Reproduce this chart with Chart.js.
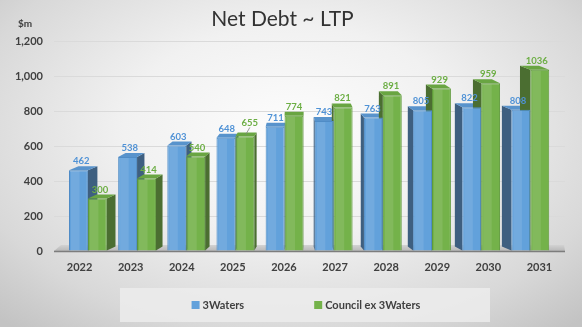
<!DOCTYPE html>
<html><head><meta charset="utf-8">
<script src="https://cdn.jsdelivr.net/npm/chart.js@4.4.0/dist/chart.umd.min.js"></script>
<style>
html,body{margin:0;padding:0;width:582px;height:327px;overflow:hidden;}
body{background: radial-gradient(ellipse 72% 80% at 50% 40%, #fdfdfd 0%, #f1f1f1 40%, #d8d8d8 78%, #c3c3c3 100%);}
canvas{display:block;}
</style></head><body>
<canvas id="c" width="582" height="327"></canvas>
<script>
const categories = ['2022','2023','2024','2025','2026','2027','2028','2029','2030','2031'];
const threeWaters = [462, 538, 603, 648, 711, 743, 763, 805, 822, 808];
const councilEx3Waters = [300, 414, 540, 655, 774, 821, 891, 929, 959, 1036];
const seriesNames = ['3Waters', 'Council ex 3Waters'];
const yTicks = {min: 0, max: 1200, step: 200};

const faceStyles = [
  {front:'#62a1db', border:'#4f8cc6', side:'#3e5f80', top:'#5893cc', label:'#4f92d6'},
  {front:'#74b24a', border:'#5f9a3b', side:'#4b6e31', top:'#69a542', label:'#6cae44'}
];
const K = 0.043, DY = 4, PERSP = 0.038;
function vpX(a){ return a.left + a.width*0.48; }

const perspective = {
  id:'perspective',
  afterDatasetsUpdate(chart){
    const vp = vpX(chart.chartArea);
    chart.data.datasets.forEach((ds, di) => {
      chart.getDatasetMeta(di).data.forEach((bar, i) => {
        const pairCenter = chart.scales.x.getPixelForValue(i);
        bar.x += (vp - pairCenter)*PERSP;
      });
    });
  }
};

const depth3d = {
  id:'depth3d',
  beforeDatasetsDraw(chart){
    const {ctx, chartArea:a} = chart;
    ctx.save();
    const g = ctx.createLinearGradient(0, a.bottom-6, 0, a.bottom);
    g.addColorStop(0,'#d2d2d2'); g.addColorStop(1,'#b8b8b8');
    ctx.fillStyle = g;
    ctx.beginPath();
    ctx.moveTo(a.left, a.bottom); ctx.lineTo(a.left+7, a.bottom-6);
    ctx.lineTo(a.right-1, a.bottom-6); ctx.lineTo(a.right, a.bottom); ctx.closePath(); ctx.fill();
    ctx.strokeStyle = '#7d7d7d'; ctx.lineWidth = 1.5;
    ctx.beginPath(); ctx.moveTo(a.left, a.bottom+0.5); ctx.lineTo(a.right, a.bottom+0.5); ctx.stroke();
    const vp = vpX(a);
    chart.data.datasets.forEach((ds, di) => {
      const st = faceStyles[di];
      chart.getDatasetMeta(di).data.forEach(bar => {
        const {x, y, base, width} = bar.getProps(['x','y','base','width'], true);
        const l = x - width/2, r = x + width/2;
        const dx = (vp - x)*K;
        const sx = dx > 0 ? r : l;
        ctx.fillStyle = st.side;
        ctx.beginPath();
        ctx.moveTo(sx, y); ctx.lineTo(sx+dx, y-DY); ctx.lineTo(sx+dx, base-DY); ctx.lineTo(sx, base);
        ctx.closePath(); ctx.fill();
        ctx.fillStyle = st.top;
        ctx.beginPath();
        ctx.moveTo(l, y); ctx.lineTo(r, y); ctx.lineTo(r+dx, y-DY); ctx.lineTo(l+dx, y-DY);
        ctx.closePath(); ctx.fill();
      });
    });
    ctx.restore();
  },
  afterDatasetsDraw(chart){
    const {ctx, chartArea:a} = chart;
    ctx.save();
    chart.data.datasets.forEach((ds, di) => {
      chart.getDatasetMeta(di).data.forEach(bar => {
        const {x, y, base, width} = bar.getProps(['x','y','base','width'], true);
        ctx.fillStyle = 'rgba(255,255,255,0.10)';
        ctx.fillRect(x - width/2 + 2, y + 1, width*0.45, base - y - 1);
      });
    });
    const vp = vpX(a);
    ctx.font = 'bold 9.5px Lato';
    ctx.textAlign = 'center';
    ctx.textBaseline = 'alphabetic';
    chart.data.datasets.forEach((ds, di) => {
      const st = faceStyles[di];
      chart.getDatasetMeta(di).data.forEach((bar, i) => {
        const dx = (vp - bar.x)*K;
        let lx = bar.x + dx*0.3, ly = bar.y - DY - 2;
        if (di === 1 && Math.abs(ds.data[i] - threeWaters[i]) < 20) {
          ctx.strokeStyle = '#7f7f7f'; ctx.lineWidth = 0.8;
          ctx.beginPath(); ctx.moveTo(bar.x + 1, bar.y - 2); ctx.lineTo(bar.x + 5, bar.y - 9); ctx.stroke();
          lx = bar.x + 5; ly = bar.y - 10;
        }
        ctx.fillStyle = st.label;
        ctx.fillText(String(ds.data[i]), lx, ly);
      });
    });
    ctx.restore();
  }
};

const boxLegend = {
  id:'boxLegend',
  afterDraw(chart){
    const ctx = chart.ctx;
    const bx = 120, by = 288, bw = 370, bh = 34;
    ctx.save();
    ctx.fillStyle = 'rgba(236,236,236,0.85)';
    ctx.fillRect(bx, by, bw, bh);
    ctx.font = 'bold 11px Lato';
    ctx.textBaseline = 'middle';
    const sq = 8, tg = 3, gap = 70;
    const items = chart.data.datasets.map((ds, di) => ({text: ds.label, color: faceStyles[di].front, w: ctx.measureText(ds.label).width}));
    const total = items.reduce((s, it) => s + sq + tg + it.w, 0) + gap*(items.length-1);
    let x = bx + bw/2 - total/2 + 1;
    const cy = by + bh/2;
    items.forEach(it => {
      ctx.fillStyle = it.color;
      ctx.fillRect(x, cy - 4, sq, sq);
      ctx.fillStyle = '#404040';
      ctx.fillText(it.text, x + sq + tg, cy + 0.5);
      x += sq + tg + it.w + gap;
    });
    ctx.restore();
  }
};

const fontFam = 'Lato';
new Chart(document.getElementById('c'), {
  type: 'bar',
  data: {
    labels: categories,
    datasets: [
      {label: seriesNames[0], data: threeWaters, backgroundColor: faceStyles[0].front, borderColor: faceStyles[0].border, borderWidth: 1, categoryPercentage: 0.74, barPercentage: 1.0},
      {label: seriesNames[1], data: councilEx3Waters, backgroundColor: faceStyles[1].front, borderColor: faceStyles[1].border, borderWidth: 1, categoryPercentage: 0.74, barPercentage: 1.0}
    ]
  },
  options: {
    responsive: false,
    animation: false,
    devicePixelRatio: 1,
    layout: {padding: {left: 0, right: 17, top: 0, bottom: 46}},
    plugins: {
      legend: {display: false},
      tooltip: {enabled: false},
      title: {display: true, text: 'Net Debt ~ LTP', color: '#333333',
        font: {family: fontFam, size: 21, weight: 'normal'}, padding: {top: 7, bottom: 9}}
    },
    scales: {
      x: {
        grid: {display: false, drawTicks: false},
        border: {display: false},
        ticks: {color: '#404040', font: {family: fontFam, size: 11, weight: 'bold'}, padding: 10},
        afterFit(s){ s.height = 30; }
      },
      y: {
        min: yTicks.min, max: yTicks.max,
        grid: {color: '#dadada', drawTicks: false, lineWidth: 1},
        border: {display: false},
        ticks: {stepSize: yTicks.step, color: '#404040', font: {family: fontFam, size: 11, weight: 'bold'}, padding: 11,
          callback: v => Number(v).toLocaleString('en-US')},
        afterFit(s){ s.width = 54; }
      }
    }
  },
  plugins: [perspective, depth3d, boxLegend, {
    id: 'unitLabel',
    afterDraw(chart){
      const ctx = chart.ctx;
      ctx.save();
      ctx.font = 'bold 10px ' + fontFam;
      ctx.fillStyle = '#404040';
      ctx.textAlign = 'left'; ctx.textBaseline = 'middle';
      ctx.fillText('$m', 18, 24);
      ctx.restore();
    }
  }]
});
</script>
</body></html>
